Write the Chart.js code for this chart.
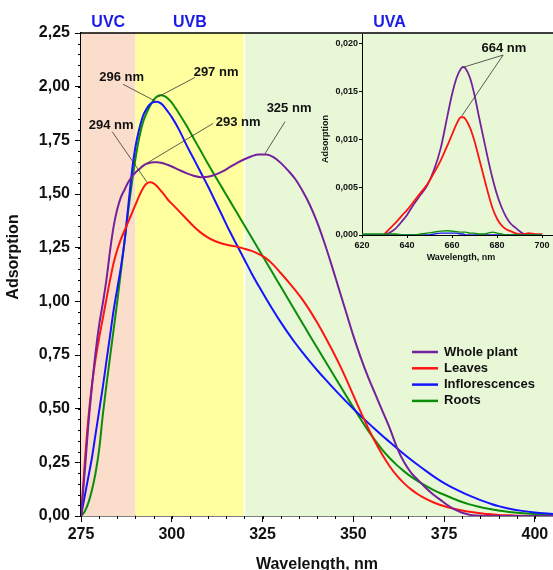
<!DOCTYPE html>
<html>
<head>
<meta charset="utf-8">
<script src="https://cdn.jsdelivr.net/npm/chart.js@4.4.1/dist/chart.umd.min.js"></script>
<style>
  html, body { margin: 0; padding: 0; background: #fff; }
  #wrap { position: relative; width: 553px; height: 570px; }
  #mainChart { position: absolute; left: 0; top: 0; }
  #insetChart { position: absolute; left: 300px; top: 0; }
</style>
</head>
<body>
<div id="wrap">
  <canvas id="mainChart" width="553" height="570"></canvas>
  <canvas id="insetChart" width="253" height="280"></canvas>
</div>
<script>
// Comprimentos de onda (nm) - gráfico principal
const wavelengths = [275, 276, 277, 278, 279, 280, 281, 282, 283, 284, 285, 286, 287, 288, 289, 290,
  291, 292, 293, 294, 295, 296, 297, 298, 299, 300, 302, 304, 306, 308, 310, 312, 314, 316, 318, 320,
  322, 324, 326, 328, 330, 332, 334, 336, 338, 340, 342, 344, 346, 348, 350, 352, 354, 356, 358, 360,
  362, 364, 366, 368, 370, 372, 374, 376, 378, 380, 382, 384, 386, 388, 390, 393, 396, 400, 405];

const wholePlant = [0, 0.2, 0.42, 0.6, 0.76, 0.89, 0.99, 1.1, 1.235, 1.35, 1.43, 1.485, 1.52, 1.555, 1.58, 1.6,
  1.615, 1.63, 1.64, 1.646, 1.648, 1.648, 1.646, 1.641, 1.635, 1.628, 1.612, 1.597, 1.585, 1.578, 1.58, 1.59, 1.605, 1.625, 1.645, 1.662,
  1.676, 1.684, 1.684, 1.672, 1.645, 1.61, 1.57, 1.515, 1.45, 1.37, 1.275, 1.17, 1.06, 0.95, 0.84, 0.74, 0.65, 0.57, 0.49, 0.41,
  0.32, 0.25, 0.2, 0.165, 0.13, 0.1, 0.075, 0.05, 0.03, 0.015, 0.006, 0.002, 0, 0, 0, 0, 0, 0, 0];

const leaves = [0, 0.24, 0.45, 0.61, 0.73, 0.83, 0.92, 1.01, 1.1, 1.18, 1.24, 1.29, 1.33, 1.37, 1.41, 1.45,
  1.49, 1.525, 1.548, 1.555, 1.55, 1.535, 1.515, 1.495, 1.472, 1.455, 1.42, 1.385, 1.35, 1.32, 1.297, 1.28, 1.268, 1.26, 1.254, 1.245,
  1.235, 1.22, 1.2, 1.17, 1.132, 1.093, 1.052, 1.008, 0.958, 0.902, 0.842, 0.779, 0.712, 0.64, 0.563, 0.486, 0.413, 0.346, 0.285, 0.232,
  0.188, 0.152, 0.123, 0.099, 0.08, 0.064, 0.051, 0.041, 0.033, 0.026, 0.02, 0.015, 0.011, 0.008, 0.005, 0.003, 0.001, 0, 0];

const inflorescences = [0, 0.09, 0.18, 0.27, 0.38, 0.49, 0.6, 0.72, 0.84, 0.96, 1.06, 1.16, 1.28, 1.44, 1.6, 1.72,
  1.8, 1.86, 1.895, 1.918, 1.928, 1.93, 1.922, 1.905, 1.882, 1.858, 1.8, 1.73, 1.665, 1.6, 1.535, 1.465, 1.395, 1.325, 1.26, 1.195,
  1.13, 1.07, 1.012, 0.956, 0.903, 0.853, 0.806, 0.762, 0.72, 0.68, 0.642, 0.605, 0.569, 0.534, 0.5, 0.467, 0.435, 0.404, 0.374, 0.345,
  0.316, 0.288, 0.261, 0.235, 0.21, 0.186, 0.164, 0.144, 0.126, 0.11, 0.095, 0.081, 0.068, 0.056, 0.046, 0.034, 0.025, 0.016, 0.009];

const roots = [0, 0.02, 0.06, 0.12, 0.2, 0.31, 0.47, 0.61, 0.74, 0.87, 1.0, 1.14, 1.28, 1.42, 1.55, 1.665,
  1.76, 1.83, 1.875, 1.91, 1.937, 1.955, 1.96, 1.956, 1.944, 1.926, 1.875, 1.82, 1.76, 1.7, 1.64, 1.582, 1.525, 1.468, 1.411, 1.354,
  1.297, 1.24, 1.183, 1.126, 1.069, 1.012, 0.955, 0.898, 0.841, 0.785, 0.729, 0.673, 0.617, 0.561, 0.506, 0.452, 0.4, 0.352, 0.308, 0.27,
  0.237, 0.208, 0.182, 0.16, 0.14, 0.122, 0.106, 0.092, 0.078, 0.065, 0.054, 0.045, 0.037, 0.031, 0.026, 0.019, 0.014, 0.009, 0.004];

const xTicks = [275, 300, 325, 350, 375, 400];
const yTicks = [0, 0.25, 0.5, 0.75, 1, 1.25, 1.5, 1.75, 2, 2.25];

// Inserção: região 620-700 nm
const insetWavelengths = [620, 625, 630, 632, 635, 638, 640, 643, 646, 649, 652, 655, 658, 660, 662, 664, 665,
  666, 668, 670, 672, 674, 676, 678, 680, 682, 684, 686, 688, 690, 692, 694, 697, 700];
const insetWholePlant = [null, null, 0, 0.0002, 0.0007, 0.0015, 0.0021, 0.0032, 0.0042, 0.0052, 0.0068, 0.0091, 0.0125, 0.0147, 0.0164, 0.0174, 0.01755,
  0.0174, 0.0164, 0.0146, 0.0123, 0.0101, 0.0079, 0.0059, 0.0042, 0.0029, 0.0019, 0.0012, 0.0008, 0.0004, 0.0001, 0, null, null];
const insetLeaves = [null, null, 0.0001, 0.0006, 0.0013, 0.0021, 0.0026, 0.0035, 0.0044, 0.0053, 0.0065, 0.0078, 0.0094, 0.0105, 0.0116, 0.0123, 0.0123,
  0.0121, 0.0112, 0.0098, 0.008, 0.0062, 0.0044, 0.0028, 0.0017, 0.001, 0.0006, 0.0004, 0.0002, 0.0001, 0.0001, 0.0002, 0.0001, 0.0001];
const insetInflorescences = [0, 0, 0, 0, 0, 0, 0, 0, 0, 0, 0.0001, 0.0002, 0.0002, 0.0002, 0.0002, 0.0001, 0.0001,
  0, 0, 0, 0, 0, 0, 0, 0, 0, 0, 0, 0, 0, 0, 0, 0, 0];
const insetRoots = [0.0001, 0.0001, 0.0001, 0.0001, 0.0001, 0, 0, 0, 0.0001, 0.0002, 0.0003, 0.0004, 0.00045, 0.0004, 0.00035, 0.0003, 0.0003,
  0.0003, 0.0002, 0.0002, 0.0001, 0.0001, 0.0002, 0.0003, 0.0002, 0.0001, 0, 0, 0, 0, 0, 0, 0, 0];
const insetXTicks = [620, 640, 660, 680, 700];
const insetYTicks = [0, 0.005, 0.01, 0.015, 0.02];

const seriesNames = ['Whole plant', 'Leaves', 'Inflorescences', 'Roots'];
const seriesColors = ['#75209c', '#ff1414', '#1414ff', '#0b8c0b'];

// Faixas UV
const bandNames = ['UVC', 'UVB', 'UVA'];
const bandStarts = [275, 290, 320];
const bandEnds = [290, 320, 405];
const bandLabelAt = [282.5, 305, 360];
const bandColors = ['#fadecb', '#ffffa0', '#e8f8d6'];

const FONT = '"Liberation Sans", Arial, sans-serif';
const fmt = (v, d) => v.toFixed(d).replace('.', ',');

// Etiquetas dos picos (coordenadas em unidades dos dados)
const mainLabels = [
  { text: '296 nm', at: [286.2, 2.041], from: [286.6, 2.011], to: [295.4, 1.933] },
  { text: '297 nm', at: [312.2, 2.065], from: [306.4, 2.043], to: [296.3, 1.953] },
  { text: '294 nm', at: [283.3, 1.818], from: [283.6, 1.79], to: [293.1, 1.557] },
  { text: '293 nm', at: [318.3, 1.834], from: [311.4, 1.829], to: [293.1, 1.643] },
  { text: '325 nm', at: [332.3, 1.899], from: [331.2, 1.837], to: [325.7, 1.689] }
];
const insetLabels = [
  { text: '664 nm', at: [683, 0.0195], from: [682.7, 0.0188], to: [664.9, 0.01752] },
  { text: '', at: [683, 0.0195], from: [682.7, 0.0188], to: [664.2, 0.01239] }
];

function toPoints(xs, ys) {
  return xs.map((x, i) => ({ x: x, y: ys[i] }));
}

function drawMinorTicks(chart, axisId, step, len) {
  const s = chart.scales[axisId];
  const ctx = chart.ctx;
  ctx.save();
  ctx.strokeStyle = '#000';
  ctx.lineWidth = 1;
  const n = Math.round((s.max - s.min) / step);
  for (let i = 0; i <= n; i++) {
    const p = Math.round(s.getPixelForValue(s.min + i * step)) + 0.5;
    ctx.beginPath();
    if (s.isHorizontal()) {
      ctx.moveTo(p, s.top);
      ctx.lineTo(p, s.top + len);
    } else {
      ctx.moveTo(s.right, p);
      ctx.lineTo(s.right - len, p);
    }
    ctx.stroke();
  }
  ctx.restore();
}

function drawLabels(chart, labels, font) {
  const ctx = chart.ctx, xs = chart.scales.x, ys = chart.scales.y;
  ctx.save();
  ctx.strokeStyle = '#333';
  ctx.lineWidth = 0.8;
  ctx.fillStyle = '#111';
  ctx.font = font;
  ctx.textAlign = 'center';
  ctx.textBaseline = 'middle';
  labels.forEach(l => {
    ctx.beginPath();
    ctx.moveTo(xs.getPixelForValue(l.from[0]), ys.getPixelForValue(l.from[1]));
    ctx.lineTo(xs.getPixelForValue(l.to[0]), ys.getPixelForValue(l.to[1]));
    ctx.stroke();
    if (l.text) ctx.fillText(l.text, xs.getPixelForValue(l.at[0]), ys.getPixelForValue(l.at[1]));
  });
  ctx.restore();
}

const bandsPlugin = {
  id: 'bands',
  beforeDatasetsDraw(chart) {
    const ctx = chart.ctx, a = chart.chartArea, xs = chart.scales.x;
    ctx.save();
    bandNames.forEach((name, i) => {
      const x0 = xs.getPixelForValue(bandStarts[i]);
      const x1 = xs.getPixelForValue(bandEnds[i]);
      ctx.fillStyle = bandColors[i];
      ctx.fillRect(x0, a.top, x1 - x0, a.bottom - a.top);
    });
    // linha branca entre UVB e UVA
    const xw = xs.getPixelForValue(bandStarts[2]);
    ctx.strokeStyle = '#fff';
    ctx.lineWidth = 1.5;
    ctx.beginPath();
    ctx.moveTo(xw, a.top);
    ctx.lineTo(xw, a.bottom);
    ctx.stroke();
    ctx.restore();
  },
  afterDraw(chart) {
    const ctx = chart.ctx, a = chart.chartArea, xs = chart.scales.x;
    ctx.save();
    ctx.fillStyle = '#1a1ae6';
    ctx.font = 'bold 16px ' + FONT;
    ctx.textAlign = 'center';
    ctx.textBaseline = 'middle';
    bandNames.forEach((name, i) => ctx.fillText(name, xs.getPixelForValue(bandLabelAt[i]), 23));
    // borda superior
    ctx.strokeStyle = '#000';
    ctx.lineWidth = 1.5;
    ctx.beginPath();
    ctx.moveTo(a.left, a.top);
    ctx.lineTo(a.right, a.top);
    ctx.stroke();
    ctx.restore();
  }
};

const mainDecor = {
  id: 'mainDecor',
  afterDraw(chart) {
    drawMinorTicks(chart, 'x', 5, 3);
    drawMinorTicks(chart, 'y', 0.05, 3);
    drawLabels(chart, mainLabels, 'bold 13px ' + FONT);
    const ctx = chart.ctx;
    ctx.save();
    // títulos dos eixos
    ctx.fillStyle = '#111';
    ctx.font = 'bold 16px ' + FONT;
    ctx.textAlign = 'center';
    ctx.textBaseline = 'middle';
    ctx.fillText('Wavelength, nm', (chart.chartArea.left + chart.chartArea.right) / 2, 565);
    ctx.translate(14, 257);
    ctx.rotate(-Math.PI / 2);
    ctx.fillText('Adsorption', 0, 0);
    ctx.restore();
    // legenda
    ctx.save();
    ctx.font = 'bold 13px ' + FONT;
    ctx.textBaseline = 'middle';
    ctx.textAlign = 'left';
    chart.data.datasets.forEach((ds, i) => {
      const y = 352 + i * 16.3;
      ctx.strokeStyle = ds.borderColor;
      ctx.lineWidth = 2.5;
      ctx.beginPath();
      ctx.moveTo(412, y);
      ctx.lineTo(438, y);
      ctx.stroke();
      ctx.fillStyle = '#111';
      ctx.fillText(ds.label, 444, y);
    });
    ctx.restore();
  }
};

new Chart(document.getElementById('mainChart'), {
  type: 'line',
  data: {
    datasets: [wholePlant, leaves, inflorescences, roots].map((vals, i) => ({
      label: seriesNames[i],
      data: toPoints(wavelengths, vals),
      borderColor: seriesColors[i],
      borderWidth: 2,
      pointRadius: 0,
      cubicInterpolationMode: 'monotone',
      fill: false
    }))
  },
  options: {
    responsive: false,
    animation: false,
    layout: { padding: { top: 33, left: 0, right: 0, bottom: 0 } },
    scales: {
      x: {
        type: 'linear', min: 275, max: 405,
        afterBuildTicks: s => { s.ticks = xTicks.map(v => ({ value: v })); },
        afterFit: s => { s.height = 54; },
        grid: { drawOnChartArea: false, color: '#000', tickLength: 6 },
        border: { color: '#000', width: 1.5 },
        ticks: { color: '#111', padding: 3, maxRotation: 0, autoSkip: false, font: { family: FONT, size: 16, weight: 'bold' } }
      },
      y: {
        type: 'linear', min: 0, max: 2.25,
        afterBuildTicks: s => { s.ticks = yTicks.map(v => ({ value: v })); },
        afterFit: s => { s.width = 81; },
        grid: { drawOnChartArea: false, color: '#000', tickLength: 6 },
        border: { color: '#000', width: 1.5 },
        ticks: { color: '#111', padding: 5, callback: v => fmt(v, 2), font: { family: FONT, size: 16, weight: 'bold' } }
      }
    },
    plugins: { legend: { display: false }, tooltip: { enabled: false } }
  },
  plugins: [bandsPlugin, mainDecor]
});

const insetDecor = {
  id: 'insetDecor',
  afterDraw(chart) {
    drawLabels(chart, insetLabels, 'bold 13px ' + FONT);
    const ctx = chart.ctx;
    ctx.save();
    ctx.fillStyle = '#111';
    ctx.font = 'bold 9px ' + FONT;
    ctx.textAlign = 'center';
    ctx.textBaseline = 'middle';
    ctx.fillText('Wavelength, nm', 161, 258);
    ctx.translate(25.5, 139);
    ctx.rotate(-Math.PI / 2);
    ctx.fillText('Adsorption', 0, 0);
    ctx.restore();
  }
};

new Chart(document.getElementById('insetChart'), {
  type: 'line',
  data: {
    datasets: [insetWholePlant, insetLeaves, insetInflorescences, insetRoots].map((vals, i) => ({
      label: seriesNames[i],
      data: toPoints(insetWavelengths, vals),
      borderColor: seriesColors[i],
      borderWidth: i < 2 ? 1.8 : 1.4,
      pointRadius: 0,
      cubicInterpolationMode: 'monotone',
      spanGaps: false,
      fill: false
    })).reverse()
  },
  options: {
    responsive: false,
    animation: false,
    layout: { padding: { top: 34, left: 0, right: 1, bottom: 0 } },
    scales: {
      x: {
        type: 'linear', min: 620, max: 704.4,
        afterBuildTicks: s => { s.ticks = insetXTicks.map(v => ({ value: v })); },
        afterFit: s => { s.height = 45; },
        grid: { drawOnChartArea: false, color: '#000', tickLength: 3 },
        border: { color: '#000', width: 1 },
        ticks: { color: '#111', padding: 2, maxRotation: 0, autoSkip: false, font: { family: FONT, size: 9, weight: 'bold' } }
      },
      y: {
        type: 'linear', min: 0, max: 0.021,
        afterBuildTicks: s => { s.ticks = insetYTicks.map(v => ({ value: v })); },
        afterFit: s => { s.width = 62; },
        grid: { drawOnChartArea: false, color: '#000', tickLength: 3 },
        border: { color: '#000', width: 1 },
        ticks: { color: '#111', padding: 1, callback: v => fmt(v, 3), font: { family: FONT, size: 9, weight: 'bold' } }
      }
    },
    plugins: { legend: { display: false }, tooltip: { enabled: false } }
  },
  plugins: [insetDecor]
});
</script>
</body>
</html>
